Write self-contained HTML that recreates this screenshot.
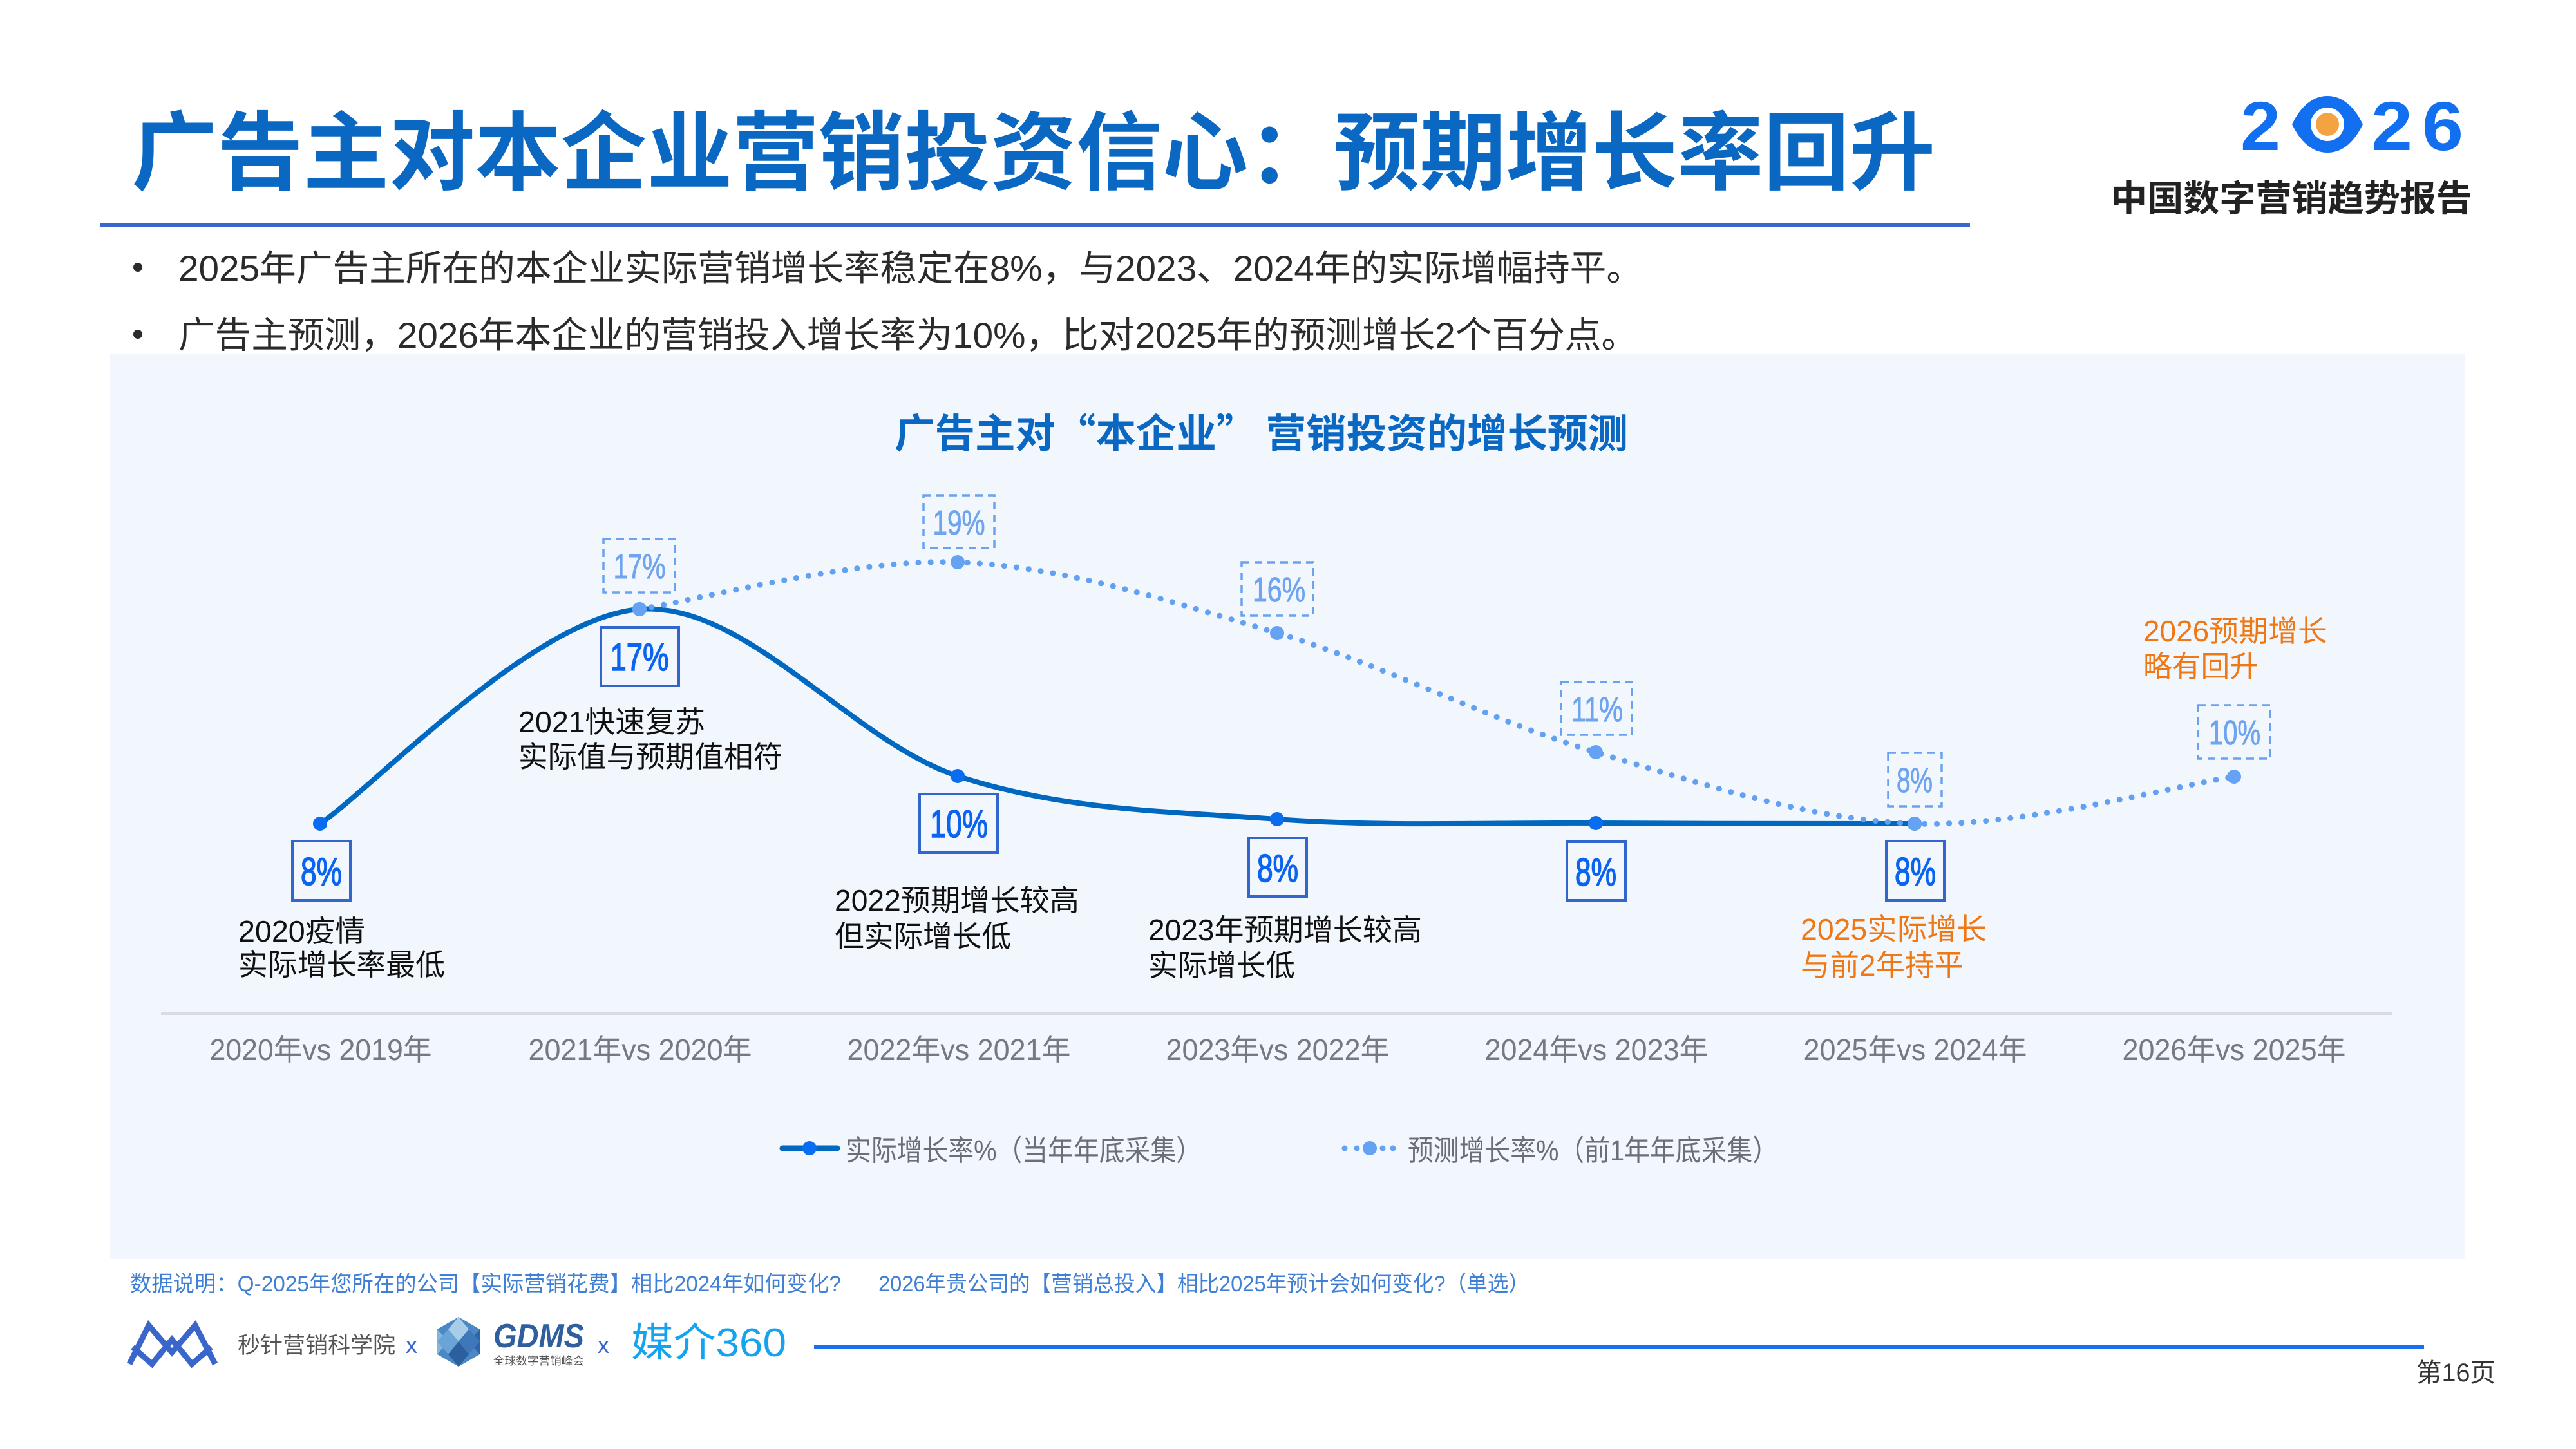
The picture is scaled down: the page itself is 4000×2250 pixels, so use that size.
<!DOCTYPE html>
<html lang="zh-CN">
<head>
<meta charset="utf-8">
<title>广告主对本企业营销投资信心：预期增长率回升</title>
<style>
  html,body{margin:0;padding:0;background:#ffffff;}
  body{width:4000px;height:2250px;overflow:hidden;}
  svg{display:block;}
  .cjk{font-family:"Liberation Sans","Noto Sans CJK SC","WenQuanYi Zen Hei",sans-serif;}
  .cjkq{font-family:"Noto Sans CJK SC","WenQuanYi Zen Hei","Liberation Sans",sans-serif;}
</style>
</head>
<body>
<svg width="4000" height="2250" viewBox="0 0 4000 2250" xmlns="http://www.w3.org/2000/svg">
  <rect x="0" y="0" width="4000" height="2250" fill="#ffffff"/>

  <!-- Title -->
  <text class="cjk" x="204" y="284" font-size="133" font-weight="700" fill="#0a68c3" textLength="2801" lengthAdjust="spacingAndGlyphs">广告主对本企业营销投资信心：预期增长率回升</text>
  <rect x="156" y="347" width="2903" height="6" fill="#3a67cc"/>

  <!-- Top-right logo -->
  <g>
    <text x="3479" y="233" font-family="'Liberation Sans',sans-serif" font-size="108" font-weight="700" fill="#126ff0" textLength="62" lengthAdjust="spacingAndGlyphs">2</text>
    <path d="M3559,193 C3575,160 3595,149 3614,149 C3633,149 3653,160 3669,193 C3653,226 3633,237 3614,237 C3595,237 3575,226 3559,193 Z" fill="#126ff0"/>
    <circle cx="3614" cy="193" r="26" fill="#ffffff"/>
    <circle cx="3614" cy="193" r="18" fill="#f3a341"/>
    <text x="3682" y="233" font-family="'Liberation Sans',sans-serif" font-size="108" font-weight="700" fill="#126ff0" textLength="64" lengthAdjust="spacingAndGlyphs">2</text>
    <text x="3761" y="233" font-family="'Liberation Sans',sans-serif" font-size="108" font-weight="700" fill="#126ff0" textLength="64" lengthAdjust="spacingAndGlyphs">6</text>
    <text class="cjk" x="3278" y="328" font-size="56" font-weight="700" fill="#222222" textLength="561" lengthAdjust="spacingAndGlyphs">中国数字营销趋势报告</text>
  </g>

  <!-- Bullets -->
  <circle cx="214" cy="415" r="7" fill="#2b2b2b"/>
  <text class="cjk" x="277" y="436" font-size="56" fill="#2b2b2b" textLength="2274" lengthAdjust="spacingAndGlyphs">2025年广告主所在的本企业实际营销增长率稳定在8%，与2023、2024年的实际增幅持平。</text>
  <circle cx="214" cy="519" r="7" fill="#2b2b2b"/>
  <text class="cjk" x="277" y="540" font-size="56" fill="#2b2b2b" textLength="2266" lengthAdjust="spacingAndGlyphs">广告主预测，2026年本企业的营销投入增长率为10%，比对2025年的预测增长2个百分点。</text>

  <!-- Chart panel -->
  <rect x="171" y="550" width="3656" height="1405" fill="#f2f6fd"/>

  <!-- Chart title -->
  <text class="cjkq" x="1389" y="695" font-size="62" font-weight="700" fill="#0a68c3" textLength="1139" lengthAdjust="spacingAndGlyphs">广告主对“本企业” 营销投资的增长预测</text>

  <!-- Axis -->
  <line x1="250" y1="1574" x2="3714" y2="1574" stroke="#d9dce2" stroke-width="4"/>

  <!-- Solid actual line -->
  <path d="M497,1279 C579.7,1223.5 828,958.3 993,946 C1158,933.7 1322,1150.7 1487,1205 C1652,1259.3 1817.8,1259.8 1983,1272 C2148.2,1284.2 2313,1276.8 2478,1278 C2643,1279.2 2890.5,1278.8 2973,1279"
        fill="none" stroke="#0068c0" stroke-width="8" stroke-linecap="round"/>

  <!-- Dotted forecast line -->
  <path d="M993,946 C1075.3,933.8 1322,866.8 1487,873 C1652,879.2 1817.8,933.8 1983,983 C2148.2,1032.2 2313,1118.7 2478,1168 C2643,1217.3 2807.8,1272.7 2973,1279 C3138.2,1285.3 3386.3,1218.2 3469,1206"
        fill="none" stroke="#62a0f2" stroke-width="9" stroke-linecap="round" stroke-dasharray="0.1 19"/>

  <!-- Actual markers -->
  <g fill="#0a6cf0">
    <circle cx="497" cy="1279" r="11"/>
    <circle cx="993" cy="946" r="11"/>
    <circle cx="1487" cy="1205" r="11"/>
    <circle cx="1983" cy="1272" r="11"/>
    <circle cx="2478" cy="1278" r="11"/>
    <circle cx="2973" cy="1279" r="11"/>
  </g>
  <!-- Forecast markers -->
  <g fill="#66a2f3">
    <circle cx="993" cy="946" r="11"/>
    <circle cx="1487" cy="873" r="11"/>
    <circle cx="1983" cy="983" r="11"/>
    <circle cx="2478" cy="1168" r="11"/>
    <circle cx="2973" cy="1279" r="11"/>
    <circle cx="3469" cy="1206" r="11"/>
  </g>

  <!-- Solid value boxes -->
  <g fill="none" stroke="#3366cc" stroke-width="4">
    <rect x="454" y="1306" width="90" height="92"/>
    <rect x="933" y="974" width="121" height="91"/>
    <rect x="1428" y="1233" width="121" height="91"/>
    <rect x="1939" y="1301" width="90" height="91"/>
    <rect x="2433" y="1307" width="91" height="91"/>
    <rect x="2929" y="1306" width="90" height="92"/>
  </g>
  <g font-family="'Liberation Sans',sans-serif" font-size="60" fill="#0a64f0" stroke="#0a64f0" stroke-width="1.6" text-anchor="middle">
    <text x="499" y="1374" textLength="64" lengthAdjust="spacingAndGlyphs">8%</text>
    <text x="993" y="1041" textLength="91" lengthAdjust="spacingAndGlyphs">17%</text>
    <text x="1489" y="1300" textLength="90" lengthAdjust="spacingAndGlyphs">10%</text>
    <text x="1984" y="1369" textLength="64" lengthAdjust="spacingAndGlyphs">8%</text>
    <text x="2478" y="1375" textLength="64" lengthAdjust="spacingAndGlyphs">8%</text>
    <text x="2974" y="1374" textLength="64" lengthAdjust="spacingAndGlyphs">8%</text>
  </g>

  <!-- Dashed forecast boxes -->
  <g fill="none" stroke="#6ba2f0" stroke-width="3.5" stroke-dasharray="12 8">
    <rect x="937" y="837" width="111" height="83"/>
    <rect x="1434" y="769" width="110" height="82"/>
    <rect x="1928" y="873" width="111" height="83"/>
    <rect x="2424" y="1059" width="110" height="82"/>
    <rect x="2932" y="1169" width="83" height="83"/>
    <rect x="3413" y="1095" width="112" height="83"/>
  </g>
  <g font-family="'Liberation Sans',sans-serif" font-size="54" fill="#6fa4ef" stroke="#6fa4ef" stroke-width="1" text-anchor="middle">
    <text x="993" y="898" textLength="81" lengthAdjust="spacingAndGlyphs">17%</text>
    <text x="1489" y="830" textLength="81" lengthAdjust="spacingAndGlyphs">19%</text>
    <text x="1986" y="934" textLength="82" lengthAdjust="spacingAndGlyphs">16%</text>
    <text x="2480" y="1120" textLength="80" lengthAdjust="spacingAndGlyphs">11%</text>
    <text x="2973" y="1230" textLength="56" lengthAdjust="spacingAndGlyphs">8%</text>
    <text x="3470" y="1156" textLength="80" lengthAdjust="spacingAndGlyphs">10%</text>
  </g>

  <!-- Annotations -->
  <g class="cjk" font-size="46" fill="#111111">
    <text x="370" y="1462" textLength="197" lengthAdjust="spacingAndGlyphs">2020疫情</text>
    <text x="370" y="1514" textLength="321" lengthAdjust="spacingAndGlyphs">实际增长率最低</text>
    <text x="805" y="1137" textLength="290" lengthAdjust="spacingAndGlyphs">2021快速复苏</text>
    <text x="805" y="1191" textLength="410" lengthAdjust="spacingAndGlyphs">实际值与预期值相符</text>
    <text x="1296" y="1414" textLength="380" lengthAdjust="spacingAndGlyphs">2022预期增长较高</text>
    <text x="1296" y="1470" textLength="274" lengthAdjust="spacingAndGlyphs">但实际增长低</text>
    <text x="1783" y="1460" textLength="425" lengthAdjust="spacingAndGlyphs">2023年预期增长较高</text>
    <text x="1783" y="1515" textLength="228" lengthAdjust="spacingAndGlyphs">实际增长低</text>
  </g>
  <g class="cjk" font-size="46" fill="#f07814">
    <text x="2796" y="1459" textLength="289" lengthAdjust="spacingAndGlyphs">2025实际增长</text>
    <text x="2796" y="1515" textLength="253" lengthAdjust="spacingAndGlyphs">与前2年持平</text>
    <text x="3328" y="996" textLength="286" lengthAdjust="spacingAndGlyphs">2026预期增长</text>
    <text x="3328" y="1051" textLength="179" lengthAdjust="spacingAndGlyphs">略有回升</text>
  </g>

  <!-- Axis labels -->
  <g class="cjk" font-size="46" fill="#76797f" text-anchor="middle">
    <text x="498" y="1646" textLength="345" lengthAdjust="spacingAndGlyphs">2020年vs 2019年</text>
    <text x="994" y="1646" textLength="347" lengthAdjust="spacingAndGlyphs">2021年vs 2020年</text>
    <text x="1489" y="1646" textLength="347" lengthAdjust="spacingAndGlyphs">2022年vs 2021年</text>
    <text x="1984" y="1646" textLength="347" lengthAdjust="spacingAndGlyphs">2023年vs 2022年</text>
    <text x="2479" y="1646" textLength="347" lengthAdjust="spacingAndGlyphs">2024年vs 2023年</text>
    <text x="2974" y="1646" textLength="347" lengthAdjust="spacingAndGlyphs">2025年vs 2024年</text>
    <text x="3469" y="1646" textLength="347" lengthAdjust="spacingAndGlyphs">2026年vs 2025年</text>
  </g>

  <!-- Legend -->
  <line x1="1215" y1="1783" x2="1300" y2="1783" stroke="#0068c0" stroke-width="9" stroke-linecap="round"/>
  <circle cx="1257" cy="1783" r="11" fill="#0a6cf0"/>
  <text class="cjk" x="1313" y="1802" font-size="45" fill="#6b6e75" textLength="553" lengthAdjust="spacingAndGlyphs">实际增长率%（当年年底采集）</text>
  <g fill="#66a2f3">
    <circle cx="2088" cy="1783" r="4.5"/>
    <circle cx="2107" cy="1783" r="4.5"/>
    <circle cx="2127" cy="1783" r="11"/>
    <circle cx="2147" cy="1783" r="4.5"/>
    <circle cx="2163" cy="1783" r="4.5"/>
  </g>
  <text class="cjk" x="2186" y="1802" font-size="45" fill="#6b6e75" textLength="575" lengthAdjust="spacingAndGlyphs">预测增长率%（前1年年底采集）</text>

  <!-- Footer note -->
  <text class="cjk" x="202" y="2005" font-size="34" fill="#3f7fd6" textLength="1104" lengthAdjust="spacingAndGlyphs">数据说明：Q-2025年您所在的公司【实际营销花费】相比2024年如何变化?</text>
  <text class="cjk" x="1364" y="2005" font-size="34" fill="#3f7fd6" textLength="1011" lengthAdjust="spacingAndGlyphs">2026年贵公司的【营销总投入】相比2025年预计会如何变化?（单选）</text>

  <!-- Footer logos -->
  <g fill="none" stroke="#3a66cc" stroke-width="9" stroke-linejoin="miter" stroke-linecap="butt">
    <polyline points="201,2118 231,2058 267,2100 303,2058 334,2118"/>
    <polyline points="206,2092 236,2118 267,2080 298,2118 328,2092"/>
  </g>
  <text class="cjk" x="369" y="2101" font-size="35" fill="#555555" textLength="245" lengthAdjust="spacingAndGlyphs">秒针营销科学院</text>
  <text x="630" y="2101" font-family="'Liberation Sans',sans-serif" font-size="36" fill="#3a66cc">x</text>

  <g>
    <polygon points="712,2045 745,2064 745,2103 712,2122 679,2103 679,2064" fill="#4b88c4"/>
    <polygon points="712,2045 728,2064 712,2083 696,2064" fill="#a9cde9"/>
    <polygon points="712,2083 728,2103 712,2122 696,2103" fill="#2c5f9e"/>
    <polygon points="679,2064 696,2083 679,2103" fill="#86b6df"/>
    <polygon points="745,2064 728,2083 745,2103" fill="#2f65a8"/>
    <polygon points="696,2064 712,2083 696,2103 679,2083" fill="#6aa3d6"/>
    <polygon points="728,2064 745,2083 728,2103 712,2083" fill="#3e78b8"/>
  </g>
  <text x="766" y="2092" font-family="'Liberation Sans',sans-serif" font-size="52" font-weight="700" font-style="italic" fill="#2f5f9f" textLength="141" lengthAdjust="spacingAndGlyphs">GDMS</text>
  <text class="cjk" x="766" y="2119" font-size="17" fill="#555555" textLength="141" lengthAdjust="spacingAndGlyphs">全球数字营销峰会</text>
  <text x="928" y="2101" font-family="'Liberation Sans',sans-serif" font-size="36" fill="#3a66cc">x</text>
  <text class="cjk" x="980" y="2106" font-size="62" fill="#14a3ef" textLength="241" lengthAdjust="spacingAndGlyphs">媒介360</text>

  <rect x="1264" y="2088" width="2500" height="6" fill="#1a6ef0"/>
  <text class="cjk" x="3752" y="2145" font-size="40" fill="#333333" textLength="123" lengthAdjust="spacingAndGlyphs">第16页</text>
</svg>
</body>
</html>
